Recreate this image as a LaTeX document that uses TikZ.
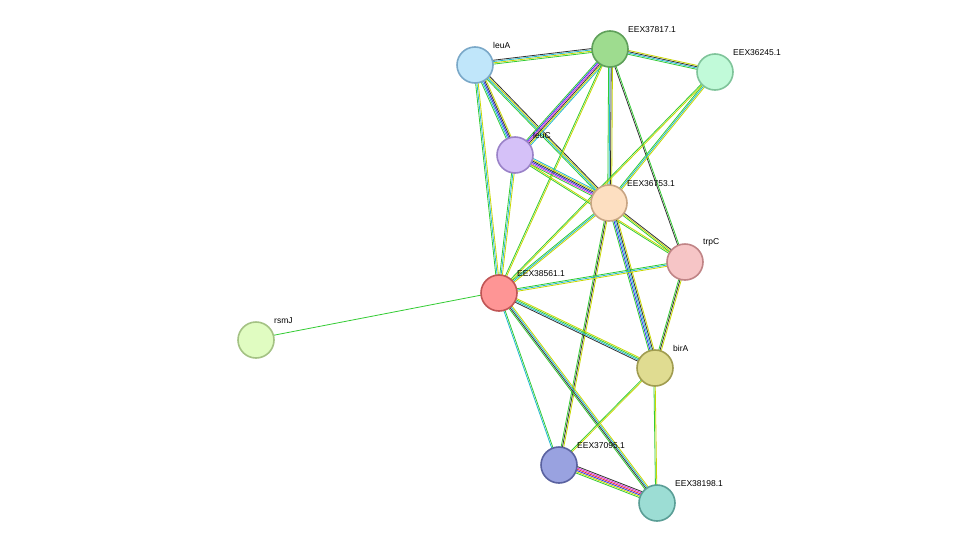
\documentclass[tikz,border=0pt]{standalone}
\usepackage{fontspec}
\setmainfont{Liberation Sans}
\usetikzlibrary{calc}
\definecolor{tg}{HTML}{33CC33}
\definecolor{ty}{HTML}{C8D800}
\definecolor{tc}{HTML}{22B8D0}
\definecolor{tk}{HTML}{333333}
\definecolor{tm}{HTML}{DD33DD}
\definecolor{tb}{HTML}{3333EE}
\definecolor{tr}{HTML}{EE3333}
\tikzset{prot/.style={circle,minimum size=36pt,line width=1.6pt,inner sep=0pt},
lbl/.style={font=\fontsize{8.5}{10}\selectfont,anchor=south west,inner sep=0pt}}
\newcommand\edg[3]{\foreach \c [count=\i] in {#3} {\pgfmathsetmacro\myoff{(\i-2)*1.3}\draw[\c,line width=0.8pt] ($(#1)!\myoff pt!90:(#2)$) -- ($(#2)!\myoff pt!-90:(#1)$);}}
\begin{document}
\begin{tikzpicture}[x=1pt,y=-1pt]
\useasboundingbox[fill=white] (0,0) rectangle (976,549);
\coordinate (leuA) at (475,65);
\coordinate (e817) at (610,49);
\coordinate (e245) at (715,72);
\coordinate (leuC) at (515,155);
\coordinate (e753) at (609,203);
\coordinate (trpC) at (685,262);
\coordinate (e561) at (499,293);
\coordinate (rsmJ) at (256,340);
\coordinate (birA) at (655,368);
\coordinate (e095) at (559,465);
\coordinate (e198) at (657,503);
\edg{leuA}{e817}{tg,ty,tc,tk}
\edg{leuA}{leuC}{tg,tc,tb,tk,ty}
\edg{leuA}{e753}{tg,tc,ty,tk}
\edg{leuA}{e561}{tg,tc,ty}
\edg{e817}{e245}{tg,tc,tk,ty}
\edg{e817}{leuC}{tg,tb,tm,tk,ty,tc}
\edg{e817}{e753}{tg,tc,tk,ty}
\edg{e817}{trpC}{tk,tg}
\edg{e817}{e561}{tg,ty}
\edg{e245}{e753}{tg,tc,ty}
\edg{e245}{e561}{tg,ty}
\edg{leuC}{e753}{tg,tm,tb,tk,ty,tc}
\edg{leuC}{e561}{tg,tc,ty}
\edg{leuC}{trpC}{tg,ty}
\edg{e753}{trpC}{tg,ty,tk}
\edg{e753}{e561}{tg,tc,ty}
\edg{e753}{birA}{tg,tb,tc,tk,ty}
\edg{e753}{e095}{tg,tk,ty}
\edg{trpC}{e561}{tg,tc,ty}
\edg{trpC}{birA}{tg,tk,ty}
\edg{e561}{rsmJ}{tg}
\edg{e561}{birA}{tk,tc,tg,ty}
\edg{e561}{e095}{tc,tg}
\edg{e561}{e198}{tg,tk,tc,ty}
\edg{birA}{e095}{tg,ty}
\edg{birA}{e198}{tg,ty}
\edg{e095}{e198}{tg,ty,tb,tr,tm,tk}
\node[prot,fill={rgb,255:red,192;green,230;blue,250},draw={rgb,255:red,122;green,168;blue,200}] (nleuA) at (leuA) {};
\node[prot,fill={rgb,255:red,158;green,220;blue,143},draw={rgb,255:red,95;green,160;blue,90}] (n817) at (e817) {};
\node[prot,fill={rgb,255:red,193;green,250;blue,217},draw={rgb,255:red,127;green,196;blue,154}] (n245) at (e245) {};
\node[prot,fill={rgb,255:red,213;green,193;blue,248},draw={rgb,255:red,154;green,130;blue,200}] (nleuC) at (leuC) {};
\node[prot,fill={rgb,255:red,253;green,223;blue,193},draw={rgb,255:red,200;green,165;blue,132}] (n753) at (e753) {};
\node[prot,fill={rgb,255:red,246;green,197;blue,198},draw={rgb,255:red,192;green,132;blue,134}] (ntrpC) at (trpC) {};
\node[prot,fill={rgb,255:red,254;green,149;blue,149},draw={rgb,255:red,192;green,85;blue,85}] (n561) at (e561) {};
\node[prot,fill={rgb,255:red,224;green,252;blue,193},draw={rgb,255:red,164;green,194;blue,132}] (nrsmJ) at (rsmJ) {};
\node[prot,fill={rgb,255:red,224;green,220;blue,145},draw={rgb,255:red,160;green,156;blue,80}] (nbirA) at (birA) {};
\node[prot,fill={rgb,255:red,153;green,162;blue,224},draw={rgb,255:red,90;green,98;blue,160}] (n095) at (e095) {};
\node[prot,fill={rgb,255:red,156;green,221;blue,212},draw={rgb,255:red,90;green,158;blue,150}] (n198) at (e198) {};
\node[lbl] (t1) at (493,49) {leuA};
\node[lbl] (t2) at (628,33) {EEX37817.1};
\node[lbl] (t3) at (733,56) {EEX36245.1};
\node[lbl] (t4) at (533,139) {leuC};
\node[lbl] (t5) at (627,187) {EEX36753.1};
\node[lbl] (t6) at (703,246) {trpC};
\node[lbl] (t7) at (517,277) {EEX38561.1};
\node[lbl] (t8) at (274,324) {rsmJ};
\node[lbl] (t9) at (673,352) {birA};
\node[lbl] (t10) at (577,449) {EEX37095.1};
\node[lbl] (t11) at (675,487) {EEX38198.1};
\end{tikzpicture}
\end{document}
